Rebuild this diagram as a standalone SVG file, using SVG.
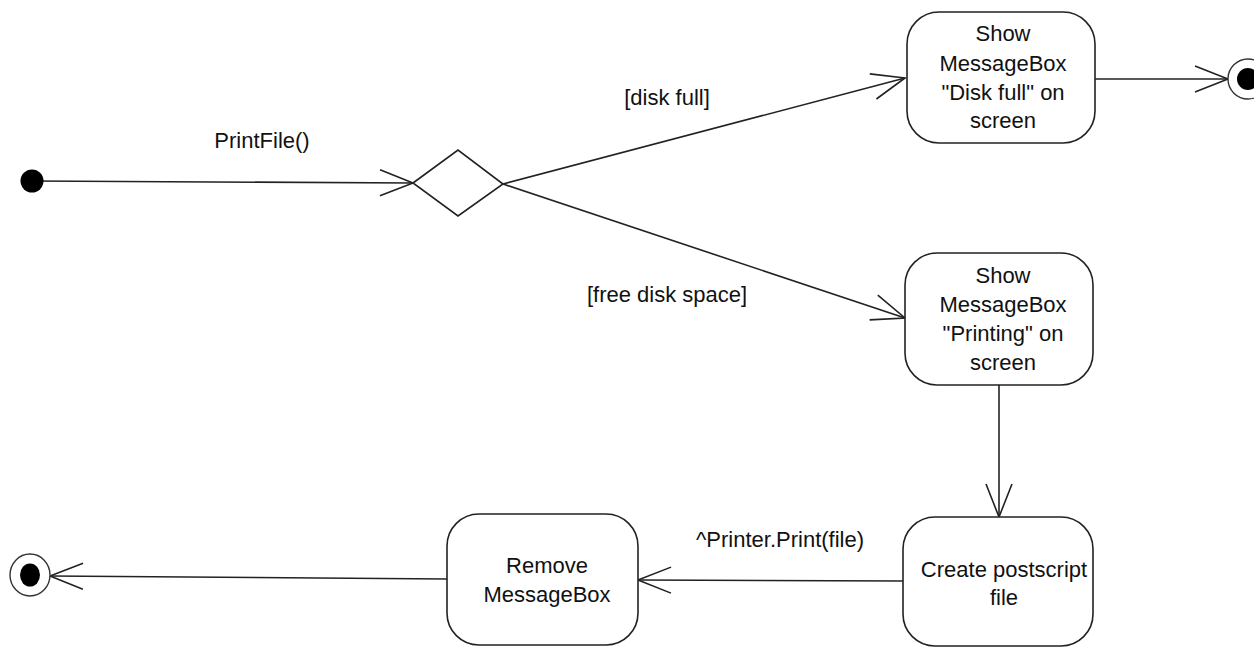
<svg xmlns="http://www.w3.org/2000/svg" width="1254" height="648" viewBox="0 0 1254 648">
<style>
text{font-family:"Liberation Sans",Arial,sans-serif;font-size:22px;fill:#111;text-anchor:middle}
.box{fill:#fff;stroke:#222;stroke-width:1.6}
.ln{fill:none;stroke:#222;stroke-width:1.6}
.dot{fill:#000}
.ring{fill:#fff;stroke:#333;stroke-width:1.4}
</style>
<defs>
<marker id="arr" markerUnits="userSpaceOnUse" markerWidth="40" markerHeight="32" viewBox="-36 -16 40 32" refX="0" refY="0" orient="auto">
<path d="M -33 -13 L 0 0 L -33 13" fill="none" stroke="#222" stroke-width="1.6"/>
</marker>
</defs>
<rect width="1254" height="648" fill="#fff"/>
<g id="connectors">
<line class="ln" x1="32" y1="181" x2="413" y2="183" marker-end="url(#arr)"/>
<line class="ln" x1="503" y1="184" x2="905" y2="78" marker-end="url(#arr)"/>
<line class="ln" x1="503" y1="184" x2="905" y2="318" marker-end="url(#arr)"/>
<line class="ln" x1="1095" y1="79" x2="1228" y2="79" marker-end="url(#arr)"/>
<line class="ln" x1="999" y1="385" x2="999" y2="517" marker-end="url(#arr)"/>
<line class="ln" x1="903" y1="581" x2="638" y2="580" marker-end="url(#arr)"/>
<line class="ln" x1="447" y1="579" x2="50" y2="576" marker-end="url(#arr)"/>
<text x="262" y="148">PrintFile()</text>
<text x="667" y="105">[disk full]</text>
<text x="667" y="302">[free disk space]</text>
<text x="780" y="547">^Printer.Print(file)</text>
</g>
<g id="start">
<circle class="dot" cx="32" cy="181" r="11.5"/>
</g>
<g id="decision">
<polygon points="413,183 458,150 503,184 458,216" fill="#fff" stroke="#222" stroke-width="1.6"/>
</g>
<g id="disk-full">
<rect class="box" x="907" y="12" width="188" height="131" rx="32" ry="32"/>
<text x="1003" y="41">Show</text>
<text x="1003" y="71">MessageBox</text>
<text x="1003" y="100">"Disk full" on</text>
<text x="1003" y="128">screen</text>
</g>
<g id="end-top">
<circle class="ring" cx="1248" cy="79" r="20"/>
<circle class="dot" cx="1248" cy="79" r="11"/>
</g>
<g id="printing">
<rect class="box" x="905" y="253" width="188" height="132" rx="32" ry="32"/>
<text x="1003" y="283">Show</text>
<text x="1003" y="312">MessageBox</text>
<text x="1003" y="341">"Printing" on</text>
<text x="1003" y="370">screen</text>
</g>
<g id="create-postscript">
<rect class="box" x="903" y="517" width="190" height="129" rx="32" ry="32"/>
<text x="1004" y="577">Create postscript</text>
<text x="1004" y="605">file</text>
</g>
<g id="remove-messagebox">
<rect class="box" x="447" y="514" width="191" height="131" rx="32" ry="32"/>
<text x="547" y="573">Remove</text>
<text x="547" y="602">MessageBox</text>
</g>
<g id="end-bottom">
<ellipse class="ring" cx="30" cy="575" rx="20" ry="21"/>
<ellipse class="dot" cx="30" cy="575" rx="10" ry="11.5"/>
</g>
</svg>
